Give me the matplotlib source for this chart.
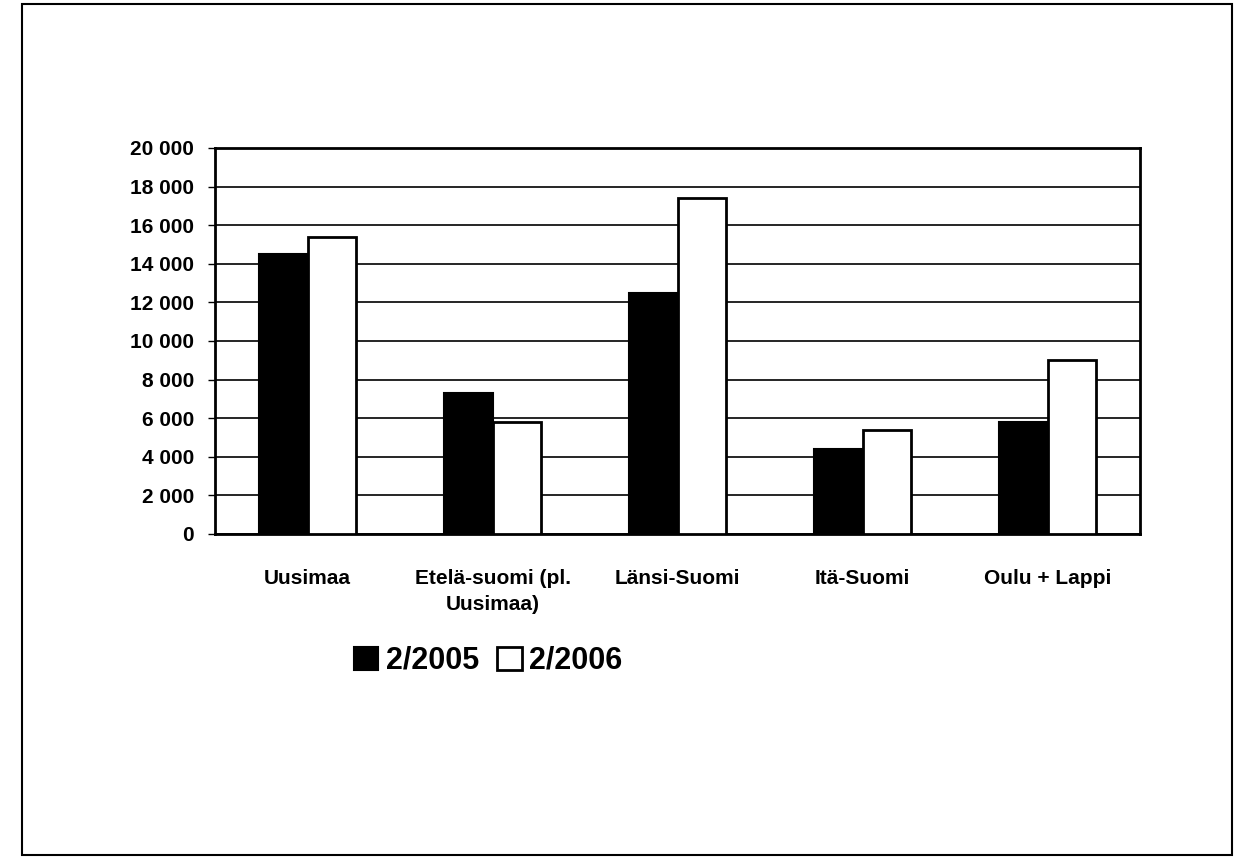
import matplotlib.pyplot as plt
import numpy as np
from matplotlib.patches import Rectangle

plt.rcParams['font.family'] = ['Liberation Sans', 'DejaVu Sans']

# data
regions = ["Uusimaa", "Etelä-suomi (pl.\nUusimaa)", "Länsi-Suomi", "Itä-Suomi", "Oulu + Lappi"]
val_2005 = [14500, 7300, 12500, 4400, 5800]
val_2006 = [15400, 5800, 17400, 5400, 9000]
yticks = list(range(0, 20001, 2000))
ytick_labels = ["0" if v == 0 else f"{v // 1000} 000" for v in yticks]

fig = plt.figure(figsize=(12.45, 8.64), dpi=100)
ax = fig.add_axes([0.1727, 0.382, 0.743, 0.4468])

x = np.arange(len(regions))
w = 0.26
ax.bar(x - w / 2, val_2005, w, color='black', edgecolor='black', linewidth=1.5, label='2/2005', zorder=3)
ax.bar(x + w / 2, val_2006, w, color='white', edgecolor='black', linewidth=2, label='2/2006', zorder=3)

ax.set_xlim(-0.5, len(regions) - 0.5)
ax.set_ylim(0, 20000)
ax.set_yticks(yticks)
ax.set_yticklabels(ytick_labels, fontweight='bold', fontsize=15)
ax.set_xticks(x)
ax.set_xticklabels(regions, fontweight='bold', fontsize=15, linespacing=1.5)
ax.tick_params(axis='x', length=0, pad=25)
ax.tick_params(axis='y', length=5, width=1, direction='out', pad=10)
ax.yaxis.grid(True, color='black', linewidth=1.2, zorder=0)
for s in ax.spines.values():
    s.set_linewidth(2)

leg = ax.legend(loc='center left', bbox_to_anchor=(0.262, 0.235), bbox_transform=fig.transFigure,
                ncol=2, frameon=False, handlelength=0.8, handleheight=0.8, handletextpad=0.25,
                columnspacing=0.6, prop={'weight': 'bold', 'size': 22})

# outer frame of the scanned page
fig.patches.append(Rectangle((22 / 1245, 0.01), (1232 - 22) / 1245, 0.985, transform=fig.transFigure,
                             fill=False, edgecolor='black', linewidth=1.5))

fig.savefig("out.png", dpi=100)
